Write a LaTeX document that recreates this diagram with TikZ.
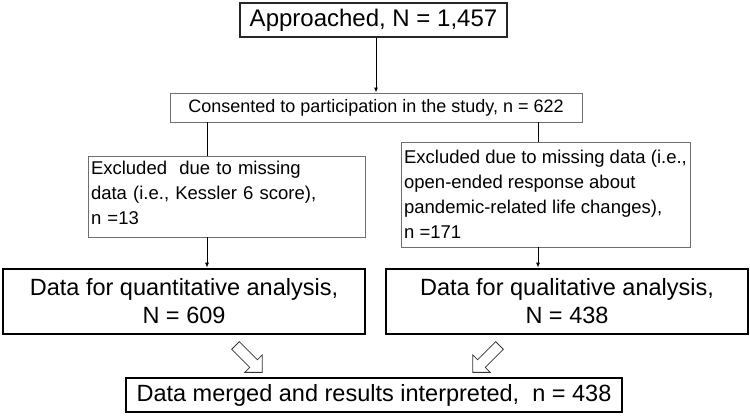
\documentclass[tikz,border=0pt]{standalone}
\usepackage{fontspec}
\setmainfont{Liberation Sans}
\usepackage{xcolor}
\usepackage{tikz}
\usetikzlibrary{shapes.arrows, arrows.meta, positioning, calc}
\definecolor{thinline}{HTML}{6e6e6e}

\begin{document}
\begin{tikzpicture}[
    x=1pt, y=-1pt,
    top/.style={rectangle, draw=black!85, line width=1.4pt, minimum width=267pt, minimum height=34pt, text centered, font=\fontsize{24}{28}\selectfont},
    thin/.style={rectangle, draw=thinline, line width=0.9pt, text centered, font=\fontsize{18}{21}\selectfont},
    excl/.style={rectangle, draw=thinline, line width=0.9pt, align=left, inner sep=3pt, font=\fontsize{18.5}{25}\selectfont},
    result/.style={rectangle, draw=black, line width=2.6pt, minimum width=362pt, minimum height=65pt, align=center, font=\fontsize{23.5}{28}\selectfont},
    arrow/.style={-{Latex[length=5pt, width=4pt]}, line width=1pt},
    link/.style={line width=1pt},
    blockarrow/.style={single arrow, draw=black!80, line width=0.8pt, minimum height=38pt, inner sep=5pt, single arrow head extend=7pt, single arrow head indent=0pt},
]
    \useasboundingbox (0,0) rectangle (750,416);

    % Main blocks
    \node[top] (approached) at (373.5,20) {Approached, N = 1,457};
    \node[thin, minimum width=412pt, minimum height=29pt] (consented) at (376,107.5) {Consented to participation in the study, n = 622};

    % Exclusions
    \node[excl, text width=271pt, minimum height=81pt] (exclL) at (226.5,196.5) {Excluded\ \ due to missing\\data (i.e., Kessler 6 score),\\n =13\strut};
    \node[excl, minimum width=289pt, minimum height=105pt] (exclR) at (545.5,194.5) {Excluded due to missing data (i.e.,\\open-ended response about\\pandemic-related life changes),\\n =171};

    % Analysis blocks
    \node[result] (dataL) at (184,301.5) {Data for quantitative analysis,\\N = 609};
    \node[result] (dataR) at (567,301.5) {Data for qualitative analysis,\\N = 438};
    \node[result, minimum width=496pt, minimum height=34pt] (merged) at (374,395) {Data merged and results interpreted,\ \ n = 438};

    % Block arrows
    \node[blockarrow, rotate=-45] (mergeL) at (247,357) {};
    \node[blockarrow, rotate=-135] (mergeR) at (488,357) {};

    % Arrows
    \draw[arrow] ([xshift=2.5pt]approached.south) -- ([xshift=2.5pt]approached.south |- consented.north);
    \draw[link] ([xshift=-19.5pt]exclL.north |- consented.south) -- ([xshift=-19.5pt]exclL.north);
    \draw[link] ([xshift=-7.5pt]exclR.north |- consented.south) -- ([xshift=-7.5pt]exclR.north);
    \draw[arrow] ([xshift=-19.5pt]exclL.south) -- ([xshift=-19.5pt]exclL.south |- dataL.north);
    \draw[arrow] ([xshift=-7.5pt]exclR.south) -- ([xshift=-7.5pt]exclR.south |- dataR.north);
\end{tikzpicture}
\end{document}
